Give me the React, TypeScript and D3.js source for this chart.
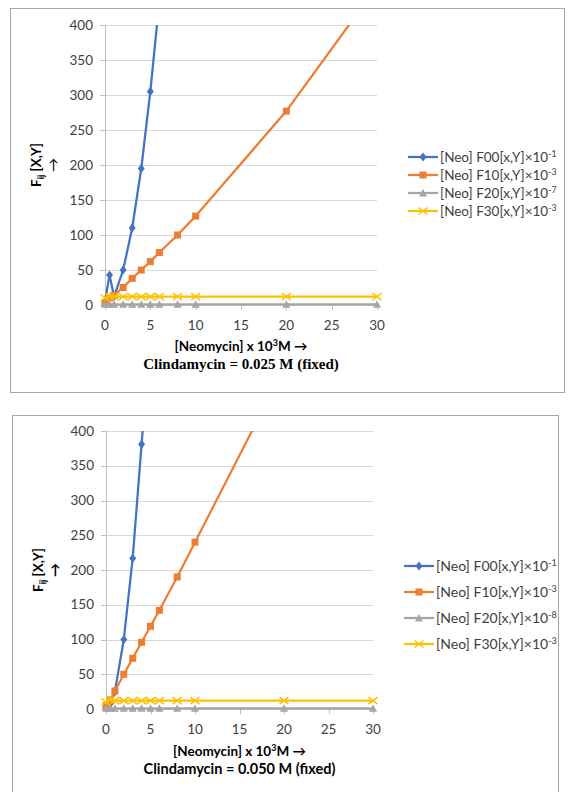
import React from "react";
import * as d3 from "d3";

// ---------- DATA ----------
const xValues = [0, 0.5, 1, 2, 3, 4, 5, 6, 8, 10, 20, 30];
const yTicks = [0, 50, 100, 150, 200, 250, 300, 350, 400];
const xTicks = [0, 5, 10, 15, 20, 25, 30];

// Chart 1: Clindamycin = 0.025 M
const c1F00 = [5, 43, 12, 50, 110, 195, 305, 435];
const c1F10 = [3, 10, 14, 25, 38, 50, 62, 75, 100, 127, 277, 455];
const c1F20 = [1, 1, 1, 1, 1, 1, 1, 1, 1, 1, 1, 1];
const c1F30 = [10, 12, 12, 12, 12, 12, 12, 12, 12, 12, 12, 12];
const c1Legend = ["[Neo] F00[x,Y]×10", "[Neo] F10[x,Y]×10", "[Neo] F20[x,Y]×10", "[Neo] F30[x,Y]×10"];
const c1Exp = ["-1", "-3", "-7", "-3"];

// Chart 2: Clindamycin = 0.050 M
const c2F00 = [2, 8, 25, 100, 217, 381, 545];
const c2F10 = [5, 13, 26, 50, 73, 96, 119, 142, 190, 240, 490, 740];
const c2F20 = [1, 1, 1, 1, 1, 1, 1, 1, 1, 1, 1, 1];
const c2F30 = [10, 13, 12, 12, 12, 12, 12, 12, 12, 12, 12, 12];
const c2Legend = ["[Neo] F00[x,Y]×10", "[Neo] F10[x,Y]×10", "[Neo] F20[x,Y]×10", "[Neo] F30[x,Y]×10"];
const c2Exp = ["-1", "-3", "-8", "-3"];

const colors = ["#4472C4", "#ED7D31", "#A5A5A5", "#FFC000"];
const markerTypes = ["diamond", "square", "triangle", "x"];

const FONT = "Lato, 'Open Sans', sans-serif";

function Marker({ type, x, y, color, size }: any) {
  const s = size;
  if (type === "diamond") {
    return <path d={`M${x},${y - s / 2 - 1}L${x + s / 2},${y}L${x},${y + s / 2 + 1}L${x - s / 2},${y}Z`} fill={color} />;
  }
  if (type === "square") {
    return <rect x={x - s / 2} y={y - s / 2} width={s} height={s} fill={color} />;
  }
  if (type === "triangle") {
    return <path d={`M${x},${y - s / 2 - 0.5}L${x + s / 2 + 0.5},${y + s / 2}L${x - s / 2 - 0.5},${y + s / 2}Z`} fill={color} />;
  }
  return (
    <g stroke={color} strokeWidth={1.5}>
      <line x1={x - s / 2 - 1} y1={y - s / 2} x2={x + s / 2 + 1} y2={y + s / 2} />
      <line x1={x - s / 2 - 1} y1={y + s / 2} x2={x + s / 2 + 1} y2={y - s / 2} />
    </g>
  );
}

function Chart({ id, box, plot, series, legend, exps, legendY, legendX, legendFont, titleY, title2, title2Serif, ytitleX, arrowBold }: any) {
  const x = d3.scaleLinear().domain([0, 30]).range([plot.left, plot.right]);
  const y = d3.scaleLinear().domain([0, 400]).range([plot.bottom, plot.top]);
  const line = d3
    .line<[number, number]>()
    .x((d) => x(d[0]))
    .y((d) => y(d[1]));
  const cy = (plot.top + plot.bottom) / 2;
  const cx = (plot.left + plot.right) / 2;
  return (
    <g>
      <rect x={box.x + 0.5} y={box.y + 0.5} width={box.w} height={box.h} fill="#fff" stroke="#a6a6a6" strokeWidth={1} />
      <defs>
        <clipPath id={`clip${id}`}>
          <rect x={plot.left - 10} y={plot.top} width={plot.right - plot.left + 20} height={plot.bottom - plot.top + 10} />
        </clipPath>
      </defs>
      {yTicks.map((t) => (
        <g key={`yt${t}`}>
          {t > 0 && <line x1={plot.left} x2={plot.right} y1={Math.round(y(t)) + 0.5} y2={Math.round(y(t)) + 0.5} stroke="#d9d9d9" strokeWidth={1} />}
          <line x1={plot.left - 5} x2={plot.left} y1={Math.round(y(t)) + 0.5} y2={Math.round(y(t)) + 0.5} stroke="#bfbfbf" />
          <text x={plot.left - 12} y={y(t)} dy="0.35em" textAnchor="end" fontFamily={FONT} fontSize={13.5} fill="#404040">
            {t}
          </text>
        </g>
      ))}
      {xTicks.map((t) => (
        <g key={`xt${t}`}>
          <line x1={Math.round(x(t)) + 0.5} x2={Math.round(x(t)) + 0.5} y1={plot.bottom} y2={plot.bottom + 5} stroke="#bfbfbf" />
          <text x={x(t)} y={plot.bottom + 20} dy="0.35em" textAnchor="middle" fontFamily={FONT} fontSize={13.5} fill="#404040">
            {t}
          </text>
        </g>
      ))}
      <line x1={Math.round(plot.left) + 0.5} x2={Math.round(plot.left) + 0.5} y1={plot.top} y2={plot.bottom} stroke="#bfbfbf" />
      <line x1={plot.left} x2={plot.right} y1={Math.round(plot.bottom) + 0.5} y2={Math.round(plot.bottom) + 0.5} stroke="#bfbfbf" />
      <g clipPath={`url(#clip${id})`}>
        {series.map((vals: number[], i: number) => {
          const pts: [number, number][] = vals.map((v, j) => [xValues[j], v]);
          return (
            <g key={`s${i}`}>
              <path d={line(pts) || ""} fill="none" stroke={colors[i]} strokeWidth={2.25} strokeLinejoin="round" />
              {pts
                .filter((p) => p[1] <= 400)
                .map((p, j) => (
                  <Marker key={j} type={markerTypes[i]} x={x(p[0])} y={y(p[1])} color={colors[i]} size={7} />
                ))}
            </g>
          );
        })}
      </g>
      {/* y title */}
      <text transform={`translate(${ytitleX},${cy}) rotate(-90)`} textAnchor="middle" fontFamily={FONT} fontSize={13.5} fontWeight="bold" fill="#000">
        F<tspan dy={3} fontSize={9}>ij</tspan>
        <tspan dy={-3}> [X,Y]</tspan>
      </text>
      <text transform={`translate(${ytitleX + 17},${cy}) rotate(-90)`} textAnchor="middle" fontFamily={FONT} fontSize={14} fontWeight={arrowBold ? "bold" : "normal"} fill="#000">
        →
      </text>
      {/* x titles */}
      <text x={cx} y={titleY} textAnchor="middle" fontFamily={FONT} fontSize={13.5} fontWeight="bold" fill="#000">
        [Neomycin] x 10<tspan dy={-5} fontSize={9}>3</tspan>
        <tspan dy={5}>M →</tspan>
      </text>
      <text x={cx} y={titleY + 18} textAnchor="middle" fontFamily={title2Serif ? "'Liberation Serif', serif" : FONT} fontSize={title2Serif ? 15 : 14.5} fontWeight="bold" fill="#000">
        {title2}
      </text>
      {/* legend */}
      {legend.map((lab: string, i: number) => (
        <g key={`l${i}`}>
          <line x1={legendX} x2={legendX + 30} y1={legendY[i]} y2={legendY[i]} stroke={colors[i]} strokeWidth={2.25} />
          <Marker type={markerTypes[i]} x={legendX + 15} y={legendY[i]} color={colors[i]} size={7} />
          <text x={legendX + 32} y={legendY[i]} dy="0.35em" fontFamily={FONT} fontSize={legendFont} fill="#404040">
            {lab}
            <tspan dy={-5} fontSize={legendFont * 0.65}>{exps[i]}</tspan>
          </text>
        </g>
      ))}
    </g>
  );
}

export default function App() {
  return (
    <svg width={571} height={792} style={{ position: "absolute", left: 0, top: 0, background: "#fff" }}>
      <rect width={571} height={792} fill="#fff" />
      <Chart
        id="a"
        box={{ x: 10, y: 8, w: 554, h: 384 }}
        plot={{ left: 105, right: 377, top: 25, bottom: 305 }}
        series={[c1F00, c1F10, c1F20, c1F30]}
        legend={c1Legend}
        exps={c1Exp}
        legendX={408}
        legendY={[157, 175, 193, 211]}
        legendFont={13.5}
        titleY={351}
        title2="Clindamycin = 0.025 M (fixed)"
        title2Serif={true}
        ytitleX={41}
        arrowBold={false}
      />
      <Chart
        id="b"
        box={{ x: 12, y: 415, w: 546, h: 400 }}
        plot={{ left: 106, right: 373, top: 431, bottom: 709 }}
        series={[c2F00, c2F10, c2F20, c2F30]}
        legend={c2Legend}
        exps={c2Exp}
        legendX={404}
        legendY={[566, 592, 618, 644]}
        legendFont={14}
        titleY={756}
        title2="Clindamycin = 0.050 M (fixed)"
        title2Serif={false}
        ytitleX={43}
        arrowBold={true}
      />
    </svg>
  );
}
